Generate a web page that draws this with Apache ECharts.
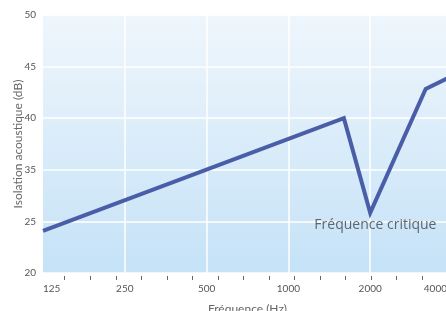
<!DOCTYPE html>
<html>
<head>
<meta charset="utf-8">
<script src="https://cdn.jsdelivr.net/npm/echarts@6/dist/echarts.min.js"></script>
<style>html,body{margin:0;padding:0;background:#fff}#c{width:446px;height:311px}</style>
</head>
<body>
<div id="c"></div>
<script>
// Data
var frequencies = [125, 1600, 2000, 3200, 4000];          // Hz
var isolation   = [24.9, 38.0, 27.0, 41.4, 42.9];         // in axis units (20..50, 5 equal steps)
var xTickLabels = [125, 250, 500, 1000, 2000, 4000];
var xGridValues = [250, 500, 1000, 2000];
var xMinorTicks = [150, 187, 232, 288, 357, 443, 550, 683, 848, 1053, 1307, 1623, 2015, 2502, 3106];
var yTickLabels = ['20', '25', '35', '40', '45', '50'];   // as printed on the reference
var annotationText = 'Fréquence critique';
var annotationAt = [2090, 25.6];

var narrow = "Lato, 'Liberation Sans', sans-serif";
var chart = echarts.init(document.getElementById('c'), null, {renderer: 'canvas'});
var yMin = 20, yMax = 50, yStep = (yMax - yMin) / (yTickLabels.length - 1);

chart.setOption({
  animation: false,
  grid: {
    left: 43, top: 15, right: -6, bottom: 38,
    outerBoundsMode: 'none', containLabel: false,
    show: true, borderWidth: 0,
    backgroundColor: new echarts.graphic.LinearGradient(0, 0, 0, 1, [
      {offset: 0, color: '#eff6fc'},
      {offset: 1, color: '#c5e2f7'}
    ])
  },
  xAxis: [{
    type: 'log', logBase: 2, min: 125, max: 4000, offset: 3,
    name: 'Fréquence (Hz)', nameLocation: 'middle', nameGap: 27, nameMoveOverlap: false,
    nameTextStyle: {fontFamily: narrow, fontSize: 12, color: '#666'},
    axisLine: {show: false},
    axisTick: {show: true, length: 4, customValues: xMinorTicks, lineStyle: {color: '#666', width: 1}},
    axisLabel: {
      customValues: xTickLabels, margin: 8, fontFamily: narrow, fontSize: 10, color: '#555',
      alignMinLabel: 'left', alignMaxLabel: 'right',
      formatter: function (v) { return v === 4000 ? '{r|' + v + '}' : String(v); },
      rich: {r: {fontFamily: narrow, fontSize: 10, color: '#555', padding: [0, 5, 0, 0]}}
    },
    splitLine: {show: false}
  }, {
    type: 'log', logBase: 2, min: 125, max: 4000, position: 'bottom',
    axisLine: {show: false},
    axisTick: {show: false, customValues: xGridValues},
    axisLabel: {show: false, customValues: xGridValues},
    splitLine: {show: true, lineStyle: {color: '#ffffff', width: 1.5}}
  }],
  yAxis: {
    type: 'value', min: yMin, max: yMax, interval: yStep,
    name: 'Isolation acoustique (dB)', nameLocation: 'middle', nameGap: 19, nameMoveOverlap: false,
    nameTextStyle: {fontFamily: narrow, fontSize: 12, color: '#666'},
    axisLine: {show: false}, axisTick: {show: false},
    axisLabel: {
      margin: 7, fontFamily: narrow, fontSize: 10, color: '#555',
      formatter: function (v) { return yTickLabels[Math.round((v - yMin) / yStep)]; }
    },
    splitLine: {show: true, lineStyle: {color: '#ffffff', width: 1.5}}
  },
  series: [{
    type: 'line', xAxisIndex: 0,
    data: frequencies.map(function (f, i) { return [f, isolation[i]]; }),
    showSymbol: false, symbol: 'none',
    lineStyle: {color: '#4a5ea8', width: 4, join: 'miter'},
    markPoint: {
      symbol: 'circle', symbolSize: 0,
      data: [{coord: annotationAt}],
      label: {show: true, position: 'inside', formatter: annotationText,
        fontFamily: "'Open Sans', sans-serif", fontSize: 14, color: '#5c6670'}
    }
  }]
});
</script>
</body>
</html>
